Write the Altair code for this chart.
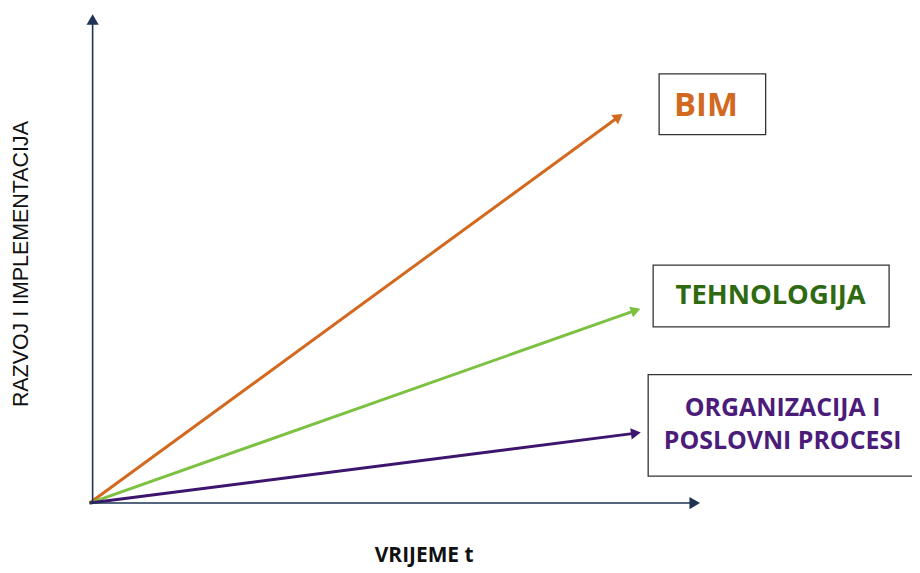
import math
import altair as alt
import pandas as pd

# ---- data ----
series = ["BIM", "TEHNOLOGIJA", "ORGANIZACIJA I POSLOVNI PROCESI"]
end_t = [530, 547, 547]          # time reached (x)
end_level = [387, 193, 70]       # development level reached (y)
line_colors = ["#D2691E", "#7DC142", "#3D156E"]
text_colors = ["#D2691E", "#2F6A12", "#4B1C7A"]

label_lines = [["BIM"], ["TEHNOLOGIJA"], ["ORGANIZACIJA I", "POSLOVNI PROCESI"]]
label_cx = [619, 684, 696]
label_cy = [[399], [208], [95, 62]]
label_size = [33, 27.5, 25]
box_x = [[572, 679], [566, 803], [561, 830]]
box_y = [[370, 431], [177, 239], [27, 129]]

x_axis_end = 606
y_axis_end = 484
x_title = "VRIJEME t"
y_title = "RAZVOJ I IMPLEMENTACIJA"

W, H = 908, 560
xs = alt.Scale(domain=[-82, W - 82], nice=False, zero=False)
ys = alt.Scale(domain=[496 - H, 496], nice=False, zero=False)

def X(f, **k):
    return alt.X(f, type="quantitative", scale=xs, axis=None, **k)

def Y(f, **k):
    return alt.Y(f, type="quantitative", scale=ys, axis=None, **k)

# lines
rows = []
for s, t, l, c in zip(series, end_t, end_level, line_colors):
    rows.append(dict(s=s, x=0, y=0, x2=t, y2=l, c=c,
                     ang=90 - math.degrees(math.atan2(l, t))))
ldf = pd.DataFrame(rows)

lines = alt.Chart(ldf).mark_rule(strokeWidth=3).encode(
    x=X("x"), y=Y("y"), x2="x2", y2="y2",
    color=alt.Color("c:N", scale=None))
heads = alt.Chart(ldf).mark_point(shape="triangle", filled=True, size=130, opacity=1).encode(
    x=X("x2"), y=Y("y2"), angle=alt.Angle("ang:Q", scale=None),
    color=alt.Color("c:N", scale=None))

# axes
adf = pd.DataFrame([
    dict(x=0, y=0, x2=x_axis_end, y2=0, ang=90),
    dict(x=3, y=0, x2=3, y2=y_axis_end, ang=0),
])
axes = alt.Chart(adf).mark_rule(strokeWidth=1.6, color="#1F3354").encode(
    x=X("x"), y=Y("y"), x2="x2", y2="y2")
axheads = alt.Chart(adf).mark_point(shape="triangle", filled=True, size=150,
                                     color="#1F3354", opacity=1).encode(
    x=X("x2"), y=Y("y2"), angle=alt.Angle("ang:Q", scale=None))

# boxes
bdf = pd.DataFrame([dict(x=bx[0], x2=bx[1], y=by[0], y2=by[1])
                    for bx, by in zip(box_x, box_y)])
boxes = alt.Chart(bdf).mark_rect(fill="white", stroke="#333333", strokeWidth=1.3).encode(
    x=X("x"), x2="x2", y=Y("y"), y2="y2")

# labels
trows = []
for lines_, cx, cys, sz, col in zip(label_lines, label_cx, label_cy, label_size, text_colors):
    for txt, cy in zip(lines_, cys):
        trows.append(dict(t=txt, x=cx, y=cy, s=sz, c=col))
tdf = pd.DataFrame(trows)
labels = alt.Chart(tdf).mark_text(font="Open Sans", fontWeight="bold", align="center",
                                  baseline="middle").encode(
    x=X("x"), y=Y("y"), text="t:N",
    size=alt.Size("s:Q", scale=None), color=alt.Color("c:N", scale=None))

# titles
xt = alt.Chart(pd.DataFrame([dict(t=x_title, x=336, y=-59)])).mark_text(
    font="Open Sans", fontWeight="bold", fontSize=21, color="#111111",
    baseline="alphabetic").encode(
    x=X("x"), y=Y("y"), text="t:N")
yt = alt.Chart(pd.DataFrame([dict(t=y_title, x=-68, y=240)])).mark_text(
    font="Liberation Sans", fontSize=21.5, color="#111111", angle=270, baseline="middle").encode(
    x=X("x"), y=Y("y"), text="t:N")

chart = alt.layer(lines, heads, axes, axheads, boxes, labels, xt, yt).properties(
    width=W, height=H, padding=0, autosize="none"
).configure_view(stroke=None)

chart.save("out.html", embed_options={"renderer": "svg", "actions": False})
